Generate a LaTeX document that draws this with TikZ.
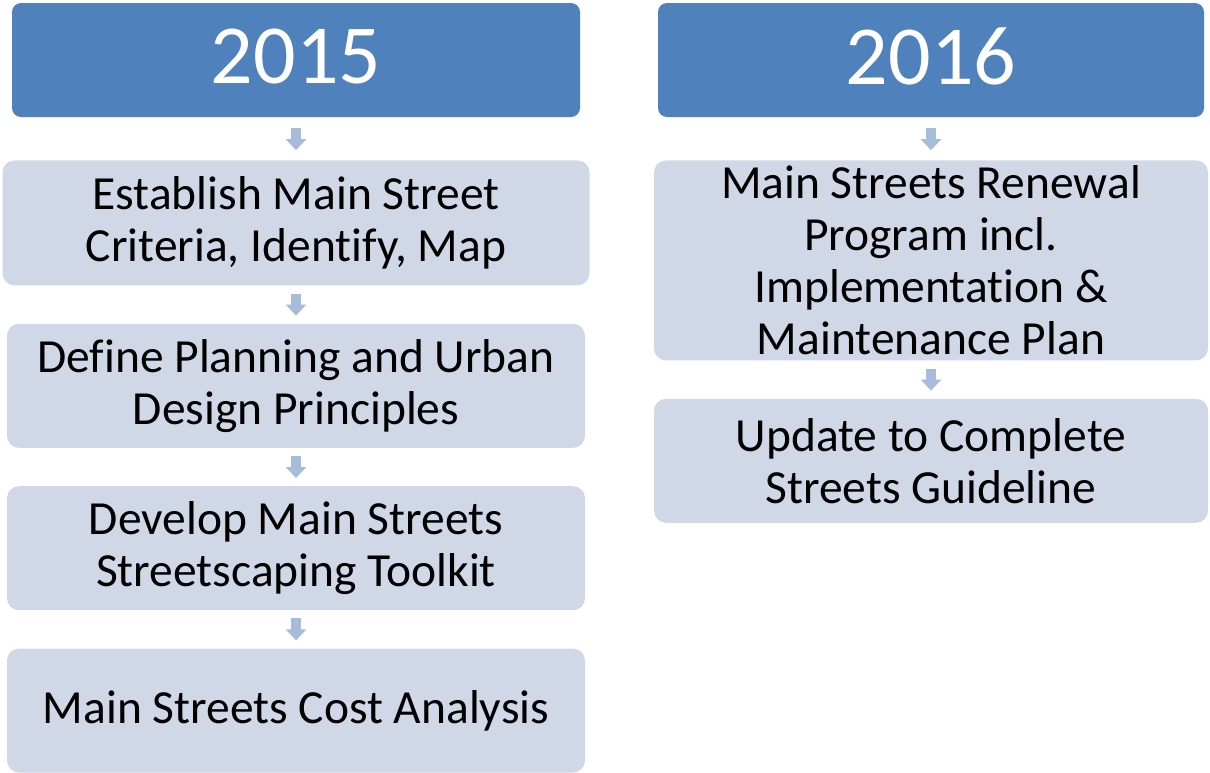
\documentclass[tikz,border=0pt]{standalone}
\usepackage{fontspec}
\setmainfont{Carlito}[Ligatures=NoCommon]
\usetikzlibrary{positioning, arrows.meta}

\definecolor{yearblue}{HTML}{4F81BD}
\definecolor{stepfill}{HTML}{D0D8E8}
\definecolor{arrowblue}{HTML}{A7BBDA}

\begin{document}
\begin{tikzpicture}[
    x=1pt, y=-1pt,
    node distance=38pt, % vertical gap between the step boxes
    yearbox/.style={fill=yearblue, rounded corners=9pt, text=white, font=\fontsize{84}{84}\selectfont, minimum width=568pt, minimum height=114pt, inner sep=0pt, text depth=8pt},
    stepbox/.style={fill=stepfill, rounded corners=12pt, align=center, font=\fontsize{47.5}{52}\selectfont, minimum width=578pt, minimum height=124pt, inner sep=0pt},
    flowarrow/.style={arrowblue, line width=10pt, -{Triangle[length=11pt, width=20pt]}, shorten <=8pt, shorten >=8pt} % block arrow between boxes
]
\useasboundingbox (0,0) rectangle (1210,772);

% Year headers
\node (y2015) [yearbox] at (296,60) {2015};
\node (y2016) [yearbox, minimum width=546pt] at (931,60) {2016};

% 2015 column
\node (establish) [stepbox, below=43pt of y2015, minimum width=587pt, minimum height=125pt] {Establish Main Street\\Criteria, Identify, Map};
\node (define) [stepbox, below=of establish] {Define Planning and Urban\\Design Principles};
\node (develop) [stepbox, below=of define] {Develop Main Streets\\Streetscaping Toolkit};
\node (cost) [stepbox, below=of develop] {Main Streets Cost Analysis};

% 2016 column
\node (renewal) [stepbox, below=43pt of y2016, minimum width=554pt, minimum height=200pt] {Main Streets Renewal\\Program incl.\\Implementation \&\\Maintenance Plan};
\node (update) [stepbox, below=of renewal, minimum width=554pt] {Update to Complete\\Streets Guideline};

% Arrows
\draw[flowarrow, shorten <=11pt, shorten >=10pt] (y2015) -- (establish);
\draw[flowarrow] (establish) -- (define);
\draw[flowarrow] (define) -- (develop);
\draw[flowarrow] (develop) -- (cost);
\draw[flowarrow, shorten <=11pt, shorten >=10pt] (y2016) -- (renewal);
\draw[flowarrow] (renewal) -- (update);

\end{tikzpicture}
\end{document}
